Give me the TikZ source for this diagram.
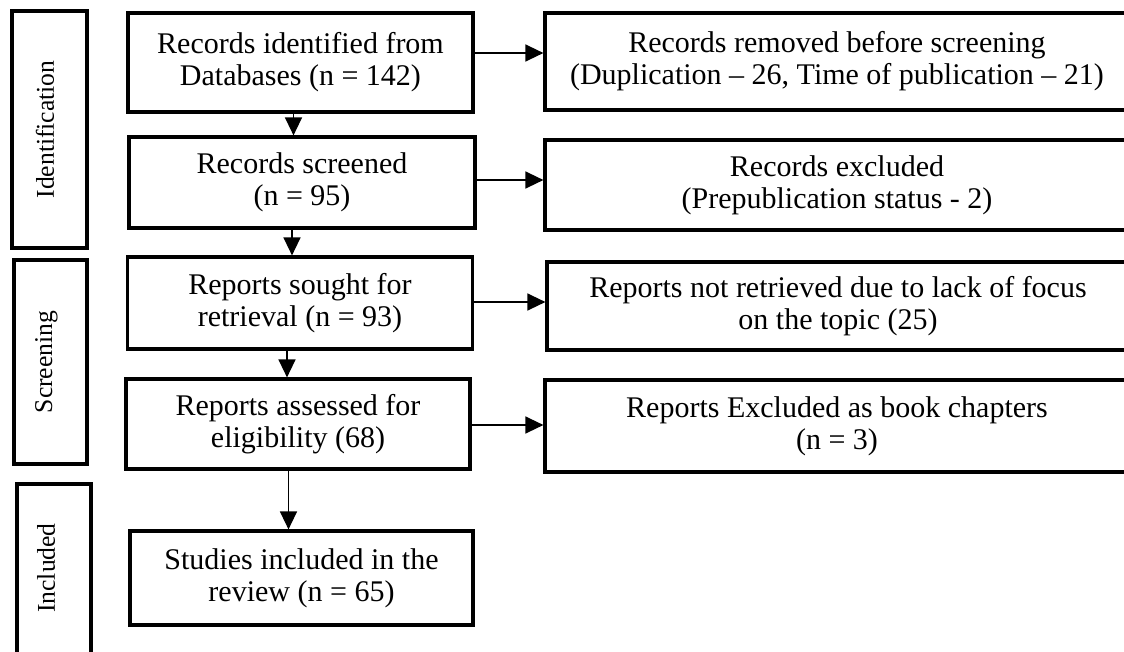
\documentclass[tikz,border=0pt]{standalone}
\usepackage{fontspec}
\setmainfont{Liberation Serif}
\usetikzlibrary{arrows.meta}
\begin{document}
\begin{tikzpicture}[x=1pt,y=-1pt]
\tikzset{
 mainbox/.style={draw, line width=3.2pt, align=center, inner sep=0pt, font=\fontsize{30}{32}\selectfont},
 stagebox/.style={draw, line width=3.2pt, inner sep=0pt},
 stagelab/.style={rotate=90, inner sep=0pt, font=\fontsize{25.6}{28}\selectfont},
 arr/.style={line width=1.4pt, -{Triangle[length=18pt,width=17pt]}}
}
\useasboundingbox (0,0) rectangle (1124,651);
\clip (0,0) rectangle (1124,651);
\fill[white] (0,0) rectangle (1124,651);

% stage boxes
\node[stagebox, minimum width=75pt, minimum height=237pt] (sid) at (49.5,129.5) {};
\node[stagebox, minimum width=73pt, minimum height=204pt] (ssc) at (50.5,362) {};
\node[stagebox, minimum width=74pt, minimum height=216pt] (sin) at (54,592) {};
\node[stagelab] (lid) at (45,129.5) {Identification};
\node[stagelab] (lsc) at (46.5,362) {Screening};
\node[stagelab] (lin) at (46,568) {Included};

% main column
\node[mainbox, minimum width=345pt, minimum height=99pt] (b1) at (300.5,62.5) {Records identified from\\Databases (n = 142)};
\node[mainbox, minimum width=346pt, minimum height=91pt] (b2) at (302,182.5) {Records screened\\(n = 95)};
\node[mainbox, minimum width=345pt, minimum height=92pt] (b3) at (300,303) {Reports sought for\\retrieval (n = 93)};
\node[mainbox, minimum width=344pt, minimum height=90pt] (b4) at (298,424) {Reports assessed for\\eligibility (68)};
\node[mainbox, minimum width=343pt, minimum height=94pt] (b5) at (301.5,578) {Studies included in the\\review (n = 65)};

% right column
\node[mainbox, minimum width=584pt, minimum height=97pt] (r1) at (837,61.5) {Records removed before screening\\(Duplication -- 26, Time of publication -- 21)};
\node[mainbox, minimum width=584pt, minimum height=90pt] (r2) at (837,185) {Records excluded\\(Prepublication status - 2)};
\node[mainbox, minimum width=582pt, minimum height=88pt] (r3) at (838,306) {Reports not retrieved due to lack of focus\\on the topic (25)};
\node[mainbox, minimum width=584pt, minimum height=92pt] (r4) at (837,426) {Reports Excluded as book chapters\\(n = 3)};

% vertical arrows
\draw[arr] ([xshift=-7pt]b1.south) -- ([xshift=-7pt]b1.south |- b2.north);
\draw[arr] ([xshift=-10pt]b2.south) -- ([xshift=-10pt]b2.south |- b3.north);
\draw[arr] ([xshift=-13pt]b3.south) -- ([xshift=-13pt]b3.south |- b4.north);
\draw[arr] ([xshift=-9.5pt]b4.south) -- ([xshift=-9.5pt]b4.south |- b5.north);

% horizontal arrows
\draw[arr] ([yshift=9.5pt]b1.east) -- ([yshift=9.5pt]b1.east -| r1.west);
\draw[arr] ([yshift=2.5pt]b2.east) -- ([yshift=2.5pt]b2.east -| r2.west);
\draw[arr] ([yshift=1pt]b3.east) -- ([yshift=1pt]b3.east -| r3.west);
\draw[arr] ([yshift=-1pt]b4.east) -- ([yshift=-1pt]b4.east -| r4.west);
\end{tikzpicture}
\end{document}
